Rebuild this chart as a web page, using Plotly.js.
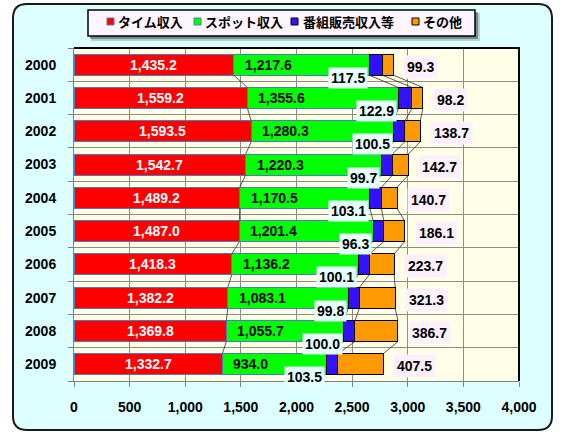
<!DOCTYPE html>
<html>
<head>
<meta charset="utf-8">
<script src="https://cdn.plot.ly/plotly-3.0.1.min.js"></script>
<style>html,body{margin:0;padding:0;background:#fff;}#chart{width:565px;height:443px;}</style>
</head>
<body>
<div id="chart"></div>
<script>
// ---- data ----
const years = ['2000','2001','2002','2003','2004','2005','2006','2007','2008','2009'];
const seriesNames = ['タイム収入','スポット収入','番組販売収入等','その他'];
const timeRev  = [1435.2,1559.2,1593.5,1542.7,1489.2,1487.0,1418.3,1382.2,1369.8,1332.7];
const spotRev  = [1217.6,1355.6,1280.3,1220.3,1170.5,1201.4,1136.2,1083.1,1055.7,934.0];
const progRev  = [117.5,122.9,100.5,99.7,103.1,96.3,100.1,99.8,100.0,103.5];
const otherRev = [99.3,98.2,138.7,142.7,140.7,186.1,223.7,321.3,386.7,407.5];
const xTicks = [0,500,1000,1500,2000,2500,3000,3500,4000];

// ---- styles ----
const fills = ['#FF0000','#00FF00','#3311FF','#FF9900'];
const edges = ['#4A7EBB','#4A7EBB','#000000','#000000'];
const NUMFONT = 'Liberation Sans, Arial, sans-serif';
const JPFONT = 'Noto Sans CJK JP, sans-serif';
const BARW = 0.63;

const idx = years.map((_, i) => i);
const values = [timeRev, spotRev, progRev, otherRev];
const fmt = v => v.toLocaleString('en-US', {minimumFractionDigits:1, maximumFractionDigits:1});

// cumulative ends
const cum = [];
values.forEach((arr, k) => {
  cum.push(arr.map((v, i) => v + (k > 0 ? cum[k-1][i] : 0)));
});

const traces = values.map((arr, k) => ({
  type:'bar', orientation:'h', name: seriesNames[k],
  x: arr, y: idx, width: BARW,
  marker:{color: fills[k], line:{color: edges[k], width:1}},
  hoverinfo:'skip', showlegend:false
}));

// series lines between bars
const slx = [], sly = [];
cum.forEach(c => {
  for (let i = 0; i < c.length - 1; i++) {
    slx.push(c[i], c[i+1], null);
    sly.push(i + BARW/2, i + 1 - BARW/2, null);
  }
});
traces.push({type:'scatter', mode:'lines', x:slx, y:sly,
  line:{color:'#303030', width:0.8}, hoverinfo:'skip', showlegend:false});

// ---- pixel helpers (plot area: x 74..519, y 48..381) ----
const PL = 74, PR = 519, PT = 48, PB = 381;
const px2x = px => (px - PL) / (PR - PL);
const px2y = py => (PB - py) / (PB - PT);

const shapes = [];
// outer rounded frame
(function(){
  const xl = px2x(13), xr = px2x(552), yt = px2y(4), yb = px2y(430);
  const rx = 14/(PR-PL), ry = 14/(PB-PT);
  shapes.push({type:'path', xref:'paper', yref:'paper', layer:'below',
    path:`M ${xl+rx},${yt} L ${xr-rx},${yt} Q ${xr},${yt} ${xr},${yt-ry} L ${xr},${yb+ry} Q ${xr},${yb} ${xr-rx},${yb} L ${xl+rx},${yb} Q ${xl},${yb} ${xl},${yb+ry} L ${xl},${yt-ry} Q ${xl},${yt} ${xl+rx},${yt} Z`,
    fillcolor:'#DDFFFF', line:{color:'#1a1a1a', width:2}});
})();
// plot area background
shapes.push({type:'rect', xref:'paper', yref:'paper', layer:'below', x0:0, x1:1, y0:0, y1:1,
  fillcolor:'#FFFEE6', line:{width:0}});
// plot area top/right border
shapes.push({type:'path', xref:'paper', yref:'paper', layer:'above',
  path:'M 0,1 L 1,1 L 1,0', line:{color:'#000', width:2}});
// legend shadow + box
shapes.push({type:'rect', xref:'paper', yref:'paper', layer:'below',
  x0:px2x(91), x1:px2x(480), y0:px2y(41), y1:px2y(13), fillcolor:'rgba(0,0,0,0.18)', line:{width:0}});
shapes.push({type:'rect', xref:'paper', yref:'paper', layer:'below',
  x0:px2x(90), x1:px2x(478), y0:px2y(39), y1:px2y(12), fillcolor:'rgba(0,0,0,0.35)', line:{width:0}});
shapes.push({type:'rect', xref:'paper', yref:'paper', layer:'below',
  x0:px2x(88), x1:px2x(475), y0:px2y(36), y1:px2y(10), fillcolor:'#FFF5FF', line:{color:'#000', width:1.5}});

const annotations = [];
// legend entries
const legSq = [107, 194, 291, 412];
const legTx = [116, 203, 301, 421];
seriesNames.forEach((n, k) => {
  shapes.push({type:'rect', xref:'paper', yref:'paper', layer:'below',
    x0:px2x(legSq[k]), x1:px2x(legSq[k]+7), y0:px2y(25), y1:px2y(18),
    fillcolor:fills[k], line:{color:edges[k], width:1}});
  annotations.push({xref:'paper', yref:'paper', x:px2x(legTx[k]), y:px2y(22), xanchor:'left', yanchor:'middle',
    text:'<b>'+n+'</b>', showarrow:false, font:{family:JPFONT, size:13, color:'#000'}});
});

// data labels
idx.forEach(i => {
  annotations.push({x: timeRev[i]/2, y:i, text:'<b>'+fmt(timeRev[i])+'</b>', showarrow:false,
    xanchor:'center', yanchor:'middle', font:{family:NUMFONT, size:14, color:'#fff'}});
  annotations.push({x: cum[0][i], y:i, xshift:9, text:'<b>'+fmt(spotRev[i])+'</b>', showarrow:false,
    xanchor:'left', yanchor:'middle', font:{family:NUMFONT, size:14, color:'#000'}});
  annotations.push({x: cum[1][i], y:i, xshift:-1, yshift:-13, text:'<b>'+fmt(progRev[i])+'</b>', showarrow:false,
    xanchor:'right', yanchor:'middle', bgcolor:'#E6FFFF', borderpad:2,
    font:{family:NUMFONT, size:14, color:'#000'}});
  annotations.push({x: cum[3][i], y:i, xshift:10, yshift:-2, text:'<b>'+fmt(otherRev[i])+'</b>', showarrow:false,
    xanchor:'left', yanchor:'middle', bgcolor:'#FDF0FD', borderpad:3,
    font:{family:NUMFONT, size:14, color:'#000'}});
});

const layout = {
  width:565, height:443,
  margin:{l:PL, r:565-PR, t:PT, b:443-PB, pad:0},
  paper_bgcolor:'#FFFFFF', plot_bgcolor:'rgba(0,0,0,0)',
  barmode:'stack', showlegend:false,
  font:{family:NUMFONT, size:14, color:'#000'},
  xaxis:{range:[0,4000], tickmode:'array', tickvals:xTicks, ticktext:xTicks.map(v=>'<b>'+v.toLocaleString('en-US')+'</b>'),
    showgrid:true, gridcolor:'#8c8c8c', gridwidth:1, zeroline:false,
    showline:true, linecolor:'#808080', linewidth:1,
    ticks:'outside', ticklen:5, tickcolor:'#808080', ticklabelstandoff:8,
    tickfont:{family:NUMFONT, size:14, color:'#000'}, fixedrange:true},
  yaxis:{range:[9.5,-0.5], tickmode:'array', tickvals:idx, ticktext:years.map(y=>'<b>'+y+'</b>'),
    showgrid:false, zeroline:false, showline:true, linecolor:'#808080', linewidth:1,
    ticks:'', ticklabelstandoff:14,
    minor:{tickmode:'linear', tick0:0.5, dtick:1, showgrid:true, gridcolor:'#8c8c8c', gridwidth:1,
      ticks:'outside', ticklen:5, tickcolor:'#808080'},
    tickfont:{family:NUMFONT, size:14, color:'#000'}, fixedrange:true},
  shapes: shapes,
  annotations: annotations
};

Plotly.newPlot('chart', traces, layout, {displayModeBar:false, staticPlot:true});
</script>
</body>
</html>
